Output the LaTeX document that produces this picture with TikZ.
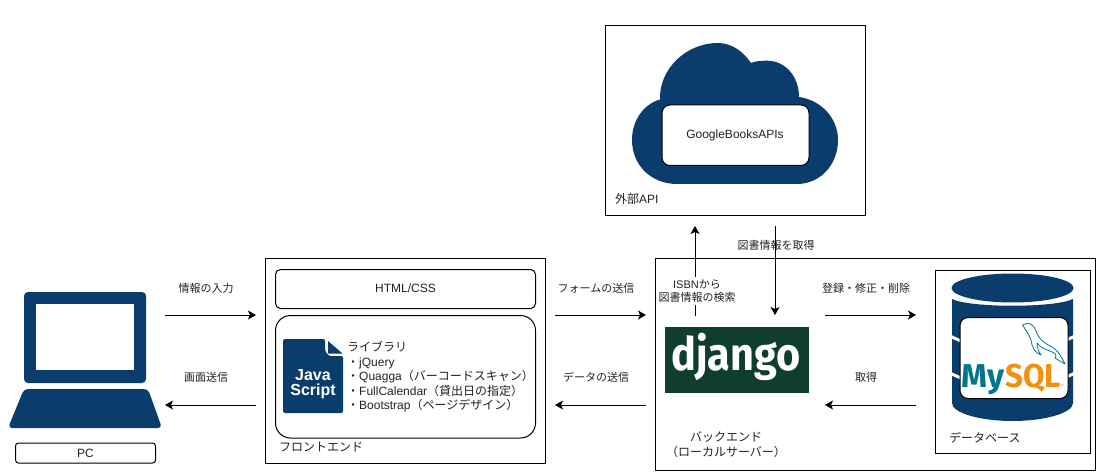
\documentclass[tikz,border=0pt]{standalone}
\usepackage{fontspec}
\setmainfont{Liberation Sans}
\newfontfamily\cjk{Noto Sans CJK JP}
\newfontfamily\logof{Fira Sans}
\usetikzlibrary{arrows.meta}
\definecolor{navy}{HTML}{0A3D6B}
\definecolor{djgreen}{HTML}{0F3E2E}
\definecolor{myteal}{HTML}{00758F}
\definecolor{myorange}{HTML}{F29111}
\definecolor{ink}{HTML}{222222}
\newcommand{\fs}[1]{\fontsize{#1}{#1}\selectfont}
\tikzset{
  x=1pt,y=-1pt,
  frame/.style={draw=black,line width=1pt,fill=white},
  rbox/.style={draw=black,line width=1pt,fill=white,rounded corners=5pt},
  lbl/.style={font=\fs{11},text=ink,inner sep=0pt,align=center},
  lbltwelve/.style={font=\fs{12},text=ink,inner sep=0pt,align=center},
  lblleft/.style={lbltwelve,anchor=west},
  liblabel/.style={font=\fs{12},text=ink,inner sep=0pt,anchor=west},
  flow/.style={draw=black,line width=1pt,-{Stealth[length=8pt,width=9pt,inset=2pt]}},
  solid navy/.style={fill=navy,draw=none},
}
\begin{document}
\begin{tikzpicture}
\useasboundingbox (0,0) rectangle (1101,476);
% frames
\path[frame] (655.5,258) -- (1095.5,258) -- (1095.5,470.5) -- (655.5,470.5) -- cycle;
\path[frame] (265.5,258) rectangle (545.5,463);
\path[frame] (935.5,270.5) rectangle (1090.5,453.5);
\path[frame] (605.5,25.5) rectangle (865.5,215.5);
% laptop
\path[solid navy,rounded corners=4pt] (24,292) rectangle (146,383);
\path[fill=white] (36,304) rectangle (134,370);
\path[solid navy,rounded corners=4pt] (24,389) -- (148,389) -- (162,428) -- (8,428) -- cycle;
\path[rbox,rounded corners=3pt] (15.5,443) rectangle (155.5,463);
\node[lbltwelve] (pc) at (85.5,453) {PC};
% frontend
\path[rbox] (275.5,269.5) rectangle (535.5,308.5);
\node[lbltwelve] (html) at (405.5,288) {HTML/CSS};
\path[rbox,rounded corners=15pt] (275.5,315.5) rectangle (535.5,438);
\path[solid navy,rounded corners=1.5pt] (283,339) -- (325,339) -- (325,351) -- (329,356) -- (343,356) -- (343,413) -- (283,413) -- cycle;
\path[solid navy] (328,341) -- (328,353.5) -- (342.5,353.5) -- cycle;
\node[font=\fs{16}\bfseries,text=white,inner sep=0pt] (js1) at (313,375) {Java};
\node[font=\fs{16}\bfseries,text=white,inner sep=0pt] (js2) at (313,391) {Script};
\node[liblabel] (lib0) at (347,347) {\cjk ライブラリ};
\node[liblabel] (lib1) at (347,363) {{\cjk ・}jQuery};
\node[liblabel] (lib2) at (347,377) {{\cjk ・}Quagga{\cjk（バーコードスキャン）}};
\node[liblabel] (lib3) at (347,391) {{\cjk ・}FullCalendar{\cjk（貸出日の指定）}};
\node[liblabel] (lib4) at (347,406) {{\cjk ・}Bootstrap{\cjk（ページデザイン）}};
\node[lblleft] (fe) at (279,447) {\cjk フロントエンド};
% external
\path[solid navy] (677,184) .. controls (651,184) and (632,165) .. (632,140)
  .. controls (632,120) and (644,104) .. (660,99.5)
  .. controls (659,69) and (686,43) .. (718,43)
  .. controls (731,43) and (743,51) .. (751,63)
  .. controls (756,61) and (761,60.7) .. (767,60.7)
  .. controls (785,60.7) and (799,76) .. (799,97)
  .. controls (821,100) and (838,118) .. (838,140)
  .. controls (838,165) and (820,184) .. (797,184) -- cycle;
\path[rbox,rounded corners=8pt] (662,105) rectangle (809,165.5);
\node[lbltwelve] (gb) at (735,135) {GoogleBooksAPIs};
\node[lblleft] (ext) at (615,199) {{\cjk 外部}API};
% django
\node[fill=djgreen,minimum width=144pt,minimum height=66pt,inner sep=0pt,anchor=north west] (dj) at (665,327) {};
\node[anchor=base,text=white,font=\logof\fs{46}\bfseries,inner sep=0pt,xscale=.9] (djt) at (736,370) {django};
\node[lbltwelve] (be) at (726,444.5) {\cjk バックエンド\\[2.5pt]\cjk（ローカルサーバー）};
% database
\path[solid navy] (1012.5,288) ellipse[x radius=61,y radius=14.5];
\path[solid navy] (952,299) .. controls (970,308) and (1055,308) .. (1073,299) -- (1073,403) .. controls (1073,413) and (1045,421) .. (1012.5,421) .. controls (980,421) and (952,413) .. (952,403) -- cycle;
\draw[white,line width=3pt] (950,336) .. controls (960,341) and (966,343) .. (975,345);
\draw[white,line width=3pt] (1075,336) .. controls (1065,341) and (1059,343) .. (1050,345);
\draw[white,line width=3pt] (950,373) .. controls (960,378) and (966,380) .. (975,382);
\draw[white,line width=3pt] (1075,373) .. controls (1065,378) and (1059,380) .. (1050,382);
\path[rbox,rounded corners=8pt] (960,317.5) rectangle (1068,398.5);
\node[anchor=base west,inner sep=0pt,font=\logof\fs{33}\bfseries,text=myteal] (my) at (961,387) {My};
\node[anchor=base west,inner sep=0pt,font=\logof\fs{33}\bfseries,text=myorange,xscale=.95] (sql) at (1005,387) {SQL};
\node[anchor=base west,inner sep=0pt,font=\fs{3},text=myorange] (tm) at (1059,386) {TM};
\draw[myteal,line width=.8pt,line join=round] (1022.5,325) .. controls (1028,322) and (1033,323) .. (1036,331) .. controls (1039,340) and (1046,344) .. (1052,347) .. controls (1057,350) and (1060,354) .. (1065,364) .. controls (1060,361) and (1058,360) .. (1055,358) .. controls (1058,354) and (1054,353) .. (1050,351) .. controls (1044,349) and (1040,347) .. (1037,343) .. controls (1037,348) and (1039,352) .. (1041,355) .. controls (1036,353) and (1034,350) .. (1032,345) .. controls (1031,337) and (1027,332) .. (1022.5,325) -- cycle;
\node[lblleft] (db) at (949,438) {\cjk データベース};
% connectors
\coordinate (a1s) at (165,315); \coordinate (a1e) at (256,315);
\coordinate (a2s) at (256,405); \coordinate (a2e) at (165,405);
\coordinate (a3s) at (555,315); \coordinate (a3e) at (646,315);
\coordinate (a4s) at (646,405); \coordinate (a4e) at (555,405);
\coordinate (a5s) at (825,315); \coordinate (a5e) at (916,315);
\coordinate (a6s) at (916,405); \coordinate (a6e) at (825,405);
\coordinate (a7s) at (695,316); \coordinate (a7e) at (695,226);
\coordinate (a8s) at (775,226); \coordinate (a8e) at (775,315);
\foreach \s/\e in {a1s/a1e,a2s/a2e,a3s/a3e,a4s/a4e,a5s/a5e,a6s/a6e,a7s/a7e,a8s/a8e}{\draw[flow] (\s) -- (\e);}
% labels
\node[lbl] (l1) at (206,288) {\cjk 情報の入力};
\node[lbl] (l2) at (206,377) {\cjk 画面送信};
\node[lbl] (l3) at (596,288) {\cjk フォームの送信};
\node[lbl] (l4) at (596,377) {\cjk データの送信};
\node[lbl] (l5) at (866,288) {\cjk 登録・修正・削除};
\node[lbl] (l6) at (866,377) {\cjk 取得};
\node[lbl] (l7) at (776,245.5) {\cjk 図書情報を取得};
\node[lbl,fill=white,inner xsep=1pt,inner ysep=3pt] (l8) at (697,291) {ISBN{\cjk から}\\[1.5pt]{\cjk 図書情報の検索}};
\end{tikzpicture}
\end{document}
